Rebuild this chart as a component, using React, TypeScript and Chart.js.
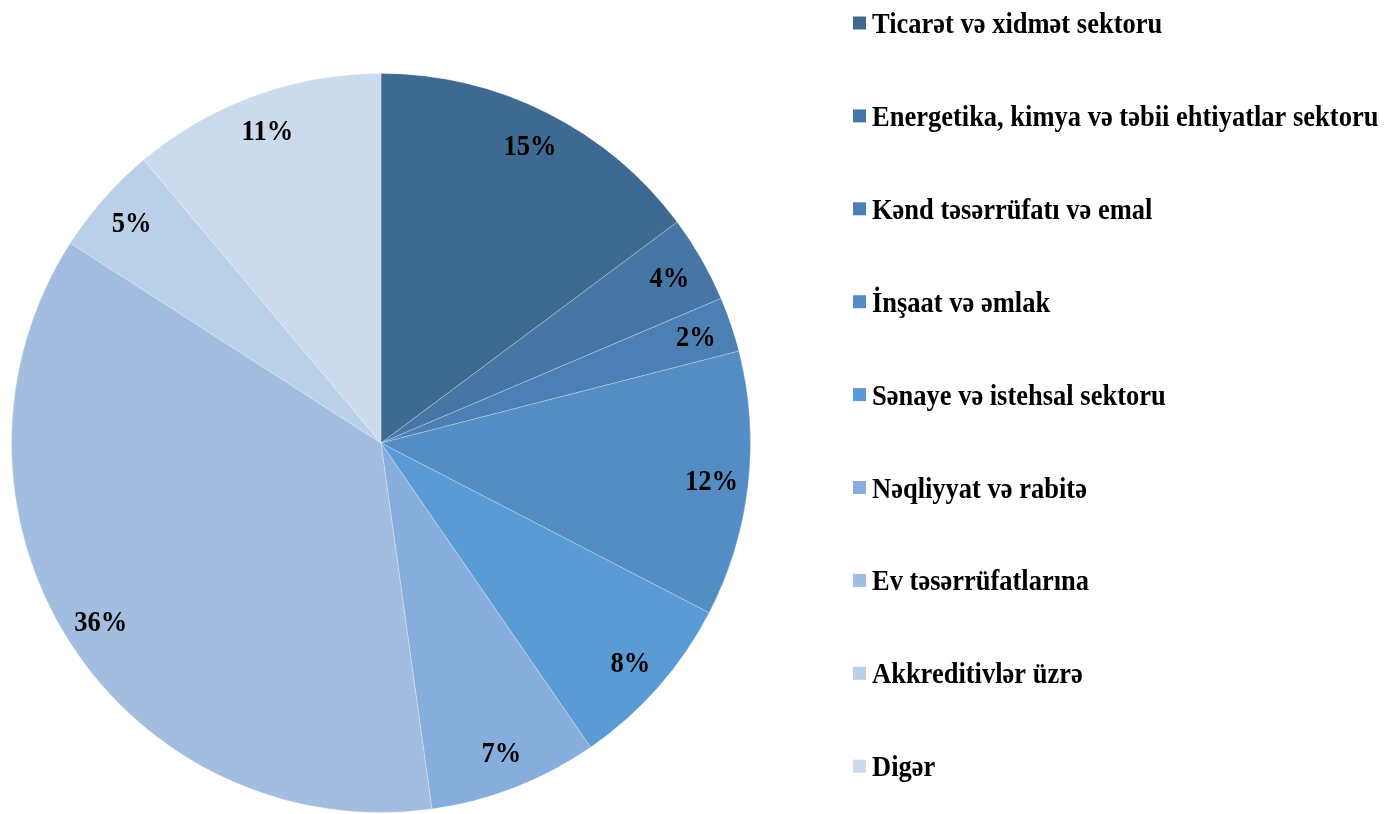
import React, { useEffect, useRef } from "react";
import { Chart, registerables } from "chart.js";

Chart.register(...registerables);

const categories: string[] = [
  "Ticarət və xidmət sektoru",
  "Energetika, kimya və təbii ehtiyatlar sektoru",
  "Kənd təsərrüfatı və emal",
  "İnşaat və əmlak",
  "Sənaye və istehsal sektoru",
  "Nəqliyyat və rabitə",
  "Ev təsərrüfatlarına",
  "Akkreditivlər üzrə",
  "Digər",
];

const shares: number[] = [14.8, 3.8, 2.4, 11.6, 7.8, 7.4, 36.3, 4.8, 11.1];

const colors: string[] = [
  "#3E6991",
  "#4676A5",
  "#4C80B4",
  "#538DC4",
  "#5A9AD5",
  "#86ADDB",
  "#A3BDE1",
  "#BACFE8",
  "#CCDAED",
];

const FONT = 'bold 26.5px "Liberation Serif", "Times New Roman", serif';
const SX = 1;
const SY = 1.08;

const labelsPlugin = {
  id: "sliceLabels",
  afterDatasetsDraw(chart: any) {
    const ctx = chart.ctx;
    const meta = chart.getDatasetMeta(0);
    const data = chart.data.datasets[0].data as number[];
    const total = data.reduce((a, b) => a + b, 0);
    ctx.save();
    ctx.font = FONT;
    ctx.fillStyle = "#000";
    ctx.textAlign = "center";
    ctx.textBaseline = "middle";
    meta.data.forEach((arc: any, i: number) => {
      const p = arc.getProps(["x", "y", "startAngle", "endAngle", "outerRadius"], true);
      const mid = (p.startAngle + p.endAngle) / 2;
      const r = p.outerRadius * 0.9;
      const x = p.x + Math.cos(mid) * r;
      const y = p.y + Math.sin(mid) * r + 2;
      const txt = Math.round((data[i] / total) * 100) + "%";
      ctx.save();
      ctx.translate(x, y);
      ctx.scale(SX, SY);
      ctx.fillText(txt, 0, 0);
      ctx.restore();
    });
    ctx.restore();
  },
};

const legendPlugin = {
  id: "sideLegend",
  afterDraw(chart: any) {
    const ctx = chart.ctx;
    const labels = chart.data.labels as string[];
    const bg = chart.data.datasets[0].backgroundColor as string[];
    ctx.save();
    ctx.font = FONT;
    ctx.textAlign = "left";
    ctx.textBaseline = "alphabetic";
    labels.forEach((lab, i) => {
      const cy = 23 + i * 92.9;
      ctx.fillStyle = bg[i];
      ctx.fillRect(853, cy - 6.5, 13, 13);
      ctx.fillStyle = "#000";
      ctx.save();
      ctx.translate(872, cy + 10);
      ctx.scale(SX, SY);
      ctx.fillText(lab, 0, 0);
      ctx.restore();
    });
    ctx.restore();
  },
};

export default function App() {
  const ref = useRef<HTMLCanvasElement | null>(null);
  useEffect(() => {
    if (!ref.current) return;
    const chart = new Chart(ref.current, {
      type: "pie",
      data: {
        labels: categories,
        datasets: [
          {
            data: shares,
            backgroundColor: colors,
            borderColor: "rgba(255,255,255,0.25)",
            borderWidth: 1,
          },
        ],
      },
      options: {
        animation: false,
        responsive: false,
        layout: { padding: { left: 11, top: 73, right: 633, bottom: 1 } },
        plugins: {
          legend: { display: false },
          tooltip: { enabled: false },
        },
      },
      plugins: [labelsPlugin, legendPlugin],
    });
    return () => chart.destroy();
  }, []);
  return (
    <div style={{ position: "fixed", left: 0, top: 0, width: 1384, height: 814, background: "#fff" }}>
      <canvas ref={ref} width={1384} height={814} style={{ width: 1384, height: 814, display: "block" }} />
    </div>
  );
}
